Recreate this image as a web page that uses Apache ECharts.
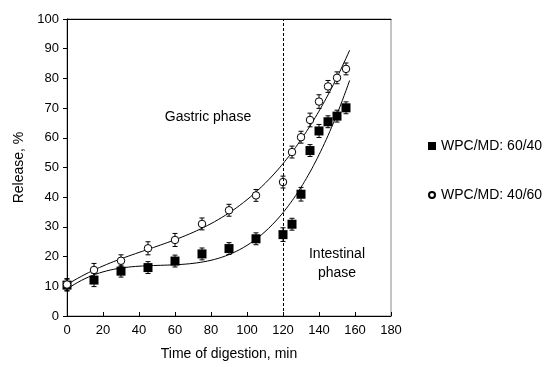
<!DOCTYPE html>
<html>
<head>
<meta charset="utf-8">
<script src="https://cdn.jsdelivr.net/npm/echarts@6/dist/echarts.min.js"></script>
<style>
  html, body { margin: 0; padding: 0; background: #fff; }
  #chart { width: 544px; height: 367px; }
</style>
</head>
<body>
<div id="chart"></div>
<script>
// digestion time, min
const times = [0, 15, 30, 45, 60, 75, 90, 105, 120, 125, 130, 135, 140, 145, 150, 155];
// WPC/MD: 60/40 (filled squares)
const rel6040 = [10.4, 12.1, 15.1, 16.3, 18.5, 20.9, 22.7, 26.0, 27.4, 30.9, 41.0, 55.7, 62.3, 65.4, 67.3, 70.1];
const err6040 = [2, 2.2, 2, 2, 2, 2, 2, 2, 2.3, 2, 2.3, 2, 2.2, 2, 2, 2];
// WPC/MD: 40/60 (open circles)
const rel4060 = [10.6, 15.5, 18.6, 22.8, 25.6, 31.0, 35.6, 40.6, 45.1, 55.2, 60.2, 66.0, 72.2, 77.3, 80.2, 83.2];
const err4060 = [2, 2.2, 2, 2.2, 2.2, 2, 2, 2, 2, 2, 2, 2.3, 2.3, 2, 2, 2];
const xTicks = [0, 20, 40, 60, 80, 100, 120, 140, 160, 180];
const yTicks = [0, 10, 20, 30, 40, 50, 60, 70, 80, 90, 100];
const trendEnd = 157;

// cubic least squares trendline (like the spreadsheet one)
function cubicFit(xs, ys) {
  const n = 4;
  const A = [], b = [];
  for (let i = 0; i < n; i++) {
    A.push(new Array(n).fill(0));
    b.push(0);
  }
  xs.forEach((x0, k) => {
    const x = x0 / 100;
    for (let i = 0; i < n; i++) {
      for (let j = 0; j < n; j++) A[i][j] += Math.pow(x, i + j);
      b[i] += ys[k] * Math.pow(x, i);
    }
  });
  // gauss elimination
  for (let i = 0; i < n; i++) {
    let p = i;
    for (let r = i + 1; r < n; r++) if (Math.abs(A[r][i]) > Math.abs(A[p][i])) p = r;
    [A[i], A[p]] = [A[p], A[i]];
    [b[i], b[p]] = [b[p], b[i]];
    for (let r = i + 1; r < n; r++) {
      const f = A[r][i] / A[i][i];
      for (let c = i; c < n; c++) A[r][c] -= f * A[i][c];
      b[r] -= f * b[i];
    }
  }
  const c = new Array(n).fill(0);
  for (let i = n - 1; i >= 0; i--) {
    let s = b[i];
    for (let j = i + 1; j < n; j++) s -= A[i][j] * c[j];
    c[i] = s / A[i][i];
  }
  return (x0) => {
    const x = x0 / 100;
    return c[0] + c[1] * x + c[2] * x * x + c[3] * x * x * x;
  };
}

function trendData(ys) {
  const f = cubicFit(times, ys);
  const out = [];
  for (let t = 0; t <= trendEnd; t += 1) out.push([t, f(t)]);
  return out;
}

function errData(ys, es) {
  return times.map((t, i) => [t, ys[i] - es[i], ys[i] + es[i]]);
}

function renderErr(params, api) {
  const x = api.value(0);
  const lo = api.coord([x, api.value(1)]);
  const hi = api.coord([x, api.value(2)]);
  const w = 2.5;
  const st = { stroke: '#000', lineWidth: 1 };
  return {
    type: 'group',
    children: [
      { type: 'line', shape: { x1: hi[0], y1: hi[1], x2: lo[0], y2: lo[1] }, style: st },
      { type: 'line', shape: { x1: hi[0] - w, y1: hi[1], x2: hi[0] + w, y2: hi[1] }, style: st },
      { type: 'line', shape: { x1: lo[0] - w, y1: lo[1], x2: lo[0] + w, y2: lo[1] }, style: st }
    ]
  };
}

const font = 'Liberation Sans, Arial, sans-serif';
const chart = echarts.init(document.getElementById('chart'));

// small circle inside an 8x8 box, so it draws smaller than the square
const smallCircle = 'path://M0,0M8,8M4,1A3,3,0,1,1,4,7A3,3,0,1,1,4,1Z';

const option = {
  animation: false,
  textStyle: { fontFamily: font },
  grid: { left: 67, right: 153, top: 19, bottom: 51, show: true, borderColor: '#888', borderWidth: 1 },
  legend: {
    orient: 'vertical',
    left: 422,
    top: 134,
    itemWidth: 8,
    itemHeight: 8,
    itemGap: 35,
    itemTextGap: 4,
    textStyle: { fontFamily: font, fontSize: 14, color: '#000' },
    data: [
      { name: 'WPC/MD: 60/40', icon: 'rect' },
      { name: 'WPC/MD: 40/60', icon: smallCircle }
    ]
  },
  xAxis: [{
    type: 'value',
    min: 0,
    max: 180,
    interval: 20,
    name: 'Time of digestion, min',
    nameLocation: 'middle',
    nameGap: 31,
    nameTextStyle: { fontSize: 14, color: '#000', fontFamily: font },
    axisLine: { lineStyle: { color: '#000', width: 1 } },
    axisTick: { inside: true, length: 4, lineStyle: { color: '#000' } },
    axisLabel: {
      color: '#000', fontSize: 13, margin: 8, fontFamily: font,
      formatter: (v) => xTicks.includes(v) ? String(v) : ''
    },
    splitLine: { show: false }
  }, {
    type: 'value',
    position: 'top',
    min: 0,
    max: 180,
    axisLine: { show: true, lineStyle: { color: '#000', width: 1 } },
    axisTick: { show: false },
    axisLabel: { show: false },
    splitLine: { show: false }
  }],
  yAxis: {
    type: 'value',
    min: 0,
    max: 100,
    interval: 10,
    name: 'Release, %',
    nameLocation: 'middle',
    nameGap: 40,
    nameTextStyle: { fontSize: 14, color: '#000', fontFamily: font },
    axisLine: { show: true, lineStyle: { color: '#000', width: 1 } },
    axisTick: { show: true, length: 4, lineStyle: { color: '#000' } },
    axisLabel: {
      color: '#000', fontSize: 13, margin: 8, fontFamily: font,
      formatter: (v) => yTicks.includes(v) ? String(v) : ''
    },
    splitLine: { show: false }
  },
  graphic: [
    {
      type: 'text', x: 208, y: 117,
      style: { text: 'Gastric phase', fill: '#000', font: '14px ' + font, textAlign: 'center', textVerticalAlign: 'middle' }
    },
    {
      type: 'text', x: 337, y: 264,
      style: { text: 'Intestinal\nphase', fill: '#000', font: '14px ' + font, lineHeight: 19, textAlign: 'center', textVerticalAlign: 'middle' }
    }
  ],
  series: [
    {
      name: 'trend 60/40',
      type: 'line',
      data: trendData(rel6040),
      showSymbol: false,
      lineStyle: { color: '#000', width: 1 },
      silent: true,
      markLine: {
        symbol: 'none',
        silent: true,
        label: { show: false },
        lineStyle: { color: '#000', type: [3, 2], width: 1 },
        data: [{ xAxis: 120 }]
      }
    },
    {
      name: 'trend 40/60',
      type: 'line',
      data: trendData(rel4060),
      showSymbol: false,
      lineStyle: { color: '#000', width: 1 },
      silent: true
    },
    {
      name: 'err 60/40',
      type: 'custom',
      renderItem: renderErr,
      data: errData(rel6040, err6040),
      z: 3
    },
    {
      name: 'err 40/60',
      type: 'custom',
      renderItem: renderErr,
      data: errData(rel4060, err4060),
      z: 3
    },
    {
      name: 'WPC/MD: 60/40',
      type: 'scatter',
      symbol: 'rect',
      symbolSize: 9,
      itemStyle: { color: '#000', opacity: 1 },
      data: times.map((t, i) => [t, rel6040[i]]),
      z: 4
    },
    {
      name: 'WPC/MD: 40/60',
      type: 'scatter',
      symbol: 'circle',
      symbolSize: 7.5,
      itemStyle: { color: '#fff', borderColor: '#000', borderWidth: 1, opacity: 1 },
      data: times.map((t, i) => [t, rel4060[i]]),
      z: 4
    }
  ]
};

chart.setOption(option);
</script>
</body>
</html>
